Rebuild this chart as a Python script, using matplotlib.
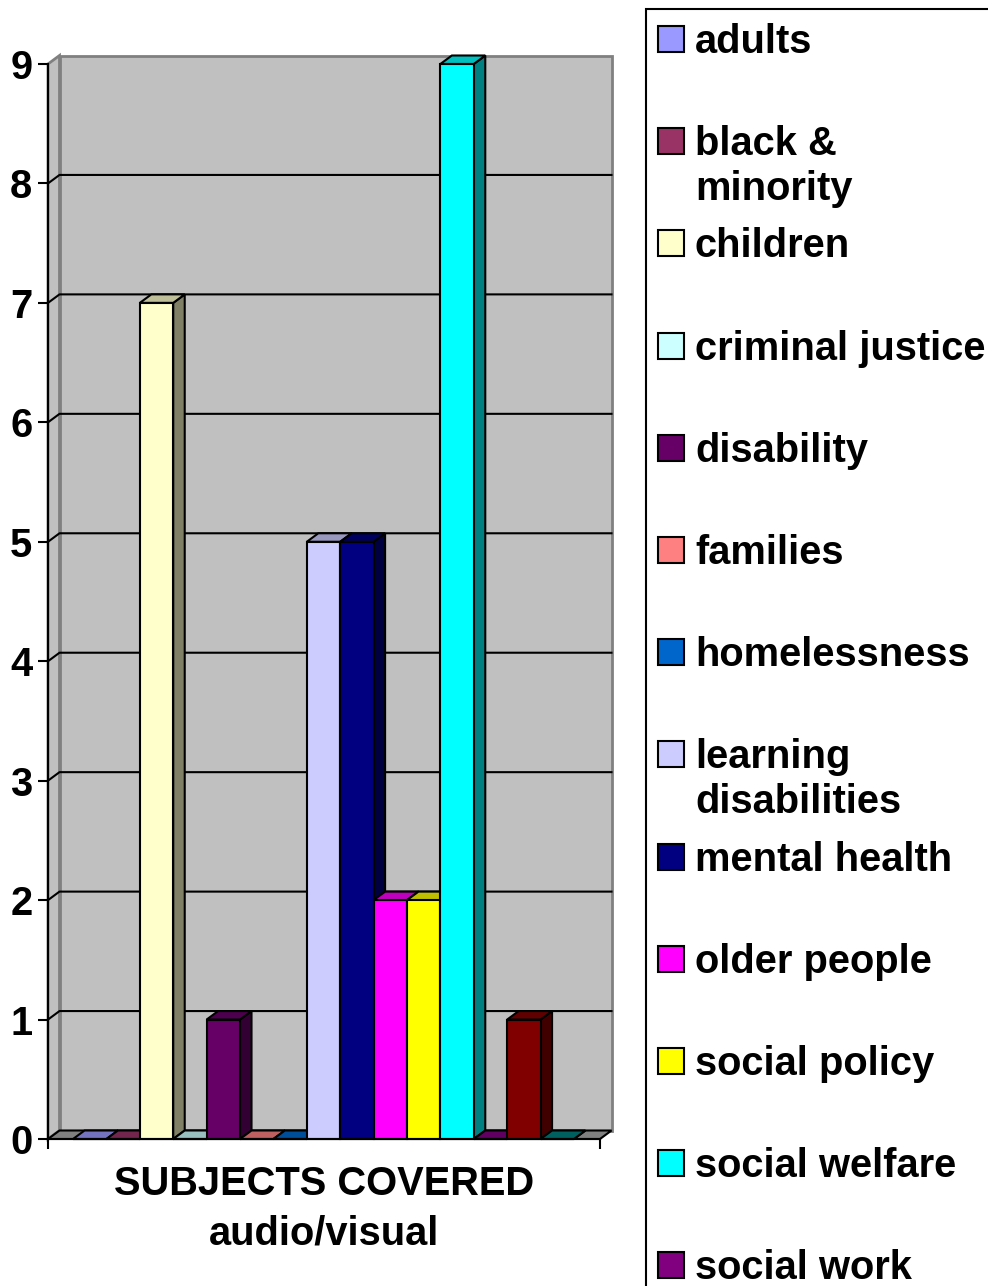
import numpy as np
import matplotlib
matplotlib.use("Agg")
import matplotlib.pyplot as plt
from matplotlib.patches import Polygon, Rectangle
from matplotlib.colors import to_rgb

plt.rcParams['font.family'] = ['Liberation Sans', 'DejaVu Sans']
plt.rcParams['font.weight'] = 'bold'

# data
subjects = ["adults", "black &\nminority", "children", "criminal justice", "disability",
            "families", "homelessness", "learning\ndisabilities", "mental health",
            "older people", "social policy", "social welfare", "social work",
            "substance misuse", "young people"]
counts = [0, 0, 7, 0, 1, 0, 0, 5, 5, 2, 2, 9, 0, 1, 0]
colors = ["#9999FF", "#993366", "#FFFFCC", "#CCFFFF", "#660066", "#FF8080", "#0066CC",
          "#CCCCFF", "#000080", "#FF00FF", "#FFFF00", "#00FFFF", "#800080", "#800000",
          "#008080"]
yticks = list(range(0, 10))
category_title = "SUBJECTS COVERED\naudio/visual"

W, H = 988, 1286
fig = plt.figure(figsize=(W / 100, H / 100), dpi=100)

# axes = front plane of the 3d box
ax_l, ax_r, ax_t, ax_b = 48, 600, 64, 1139
ax = fig.add_axes([ax_l / W, 1 - ax_b / H, (ax_r - ax_l) / W, (ax_b - ax_t) / H])

x = np.arange(len(counts))
xmin, xmax = -1.25, len(counts) - 1 + 1.28
ymin, ymax = 0, 9
ax.set_xlim(xmin, xmax)
ax.set_ylim(ymin, ymax)

# depth offset (pixels -> data units)
ppx = (ax_r - ax_l) / (xmax - xmin)
ppy = (ax_b - ax_t) / (ymax - ymin)
dx = 11.5 / ppx
dy = 8.5 / ppy

wall = "#C0C0C0"
wall_edge = "#808080"
lw = 1.5

# back wall, side wall, floor
ax.add_patch(Polygon([(xmin + dx, dy), (xmax + dx, dy), (xmax + dx, ymax + dy), (xmin + dx, ymax + dy)],
                     closed=True, fc=wall, ec=wall_edge, lw=2, clip_on=False, zorder=0.5))
ax.add_patch(Polygon([(xmin, 0), (xmin + dx, dy), (xmin + dx, ymax + dy), (xmin, ymax)],
                     closed=True, fc=wall, ec=wall_edge, lw=2, clip_on=False, zorder=0.5))
ax.add_patch(Polygon([(xmin, 0), (xmax, 0), (xmax + dx, dy), (xmin + dx, dy)],
                     closed=True, fc="#808080", ec="black", lw=lw, clip_on=False, zorder=0.6))

# gridlines on side and back wall
for v in yticks[1:-1]:
    ax.plot([xmin, xmin + dx, xmax + dx], [v, v + dy, v + dy], color="black", lw=lw,
            clip_on=False, zorder=0.7)

# sides and tops of the bars
for xi, v, c in zip(x, counts, colors):
    rgb = np.array(to_rgb(c))
    xl, xr = xi - 0.5, xi + 0.5
    side = Polygon([(xr, 0), (xr + dx, dy), (xr + dx, v + dy), (xr, v)], closed=True,
                   fc=rgb * 0.5, ec="black", lw=lw, clip_on=False, zorder=2)
    top = Polygon([(xl, v), (xr, v), (xr + dx, v + dy), (xl + dx, v + dy)], closed=True,
                  fc=rgb * 0.75, ec="black", lw=lw, clip_on=False, zorder=2)
    ax.add_patch(side)
    ax.add_patch(top)

# front faces
ax.bar(x, counts, width=1.0, color=colors, edgecolor="black", linewidth=lw, zorder=3,
       clip_on=False)

for s in ["top", "right"]:
    ax.spines[s].set_visible(False)
for s in ["left", "bottom"]:
    ax.spines[s].set_linewidth(lw)
    ax.spines[s].set_zorder(4)
ax.patch.set_visible(False)

ax.set_yticks(yticks)
ax.set_yticklabels([str(t) for t in yticks], fontsize=28.7, fontweight="bold")
ax.set_xticks([xmin, xmax])
ax.set_xticklabels([])
ax.tick_params(axis="both", direction="out", length=7.2, width=lw, color="black")
ax.tick_params(axis="y", pad=4)
ax.set_xlabel(category_title, fontsize=28.7, fontweight="bold", linespacing=1.37, labelpad=8)

# legend box (extends beyond the figure like the reference)
def fx(px):
    return px / W


def fy(py):
    return 1 - py / H


box_l, box_t = 646, 9
fig.patches.append(Rectangle((fx(box_l), fy(H + 50)), fx(W + 50 - box_l), (H + 50 - box_t) / H,
                             transform=fig.transFigure, fc="white", ec="black", lw=1.5,
                             zorder=1))
step = 102.2
for i, (lab, c) in enumerate(zip(subjects, colors)):
    cy = 39 + i * step
    if cy > H:
        break
    fig.patches.append(Rectangle((fx(658), fy(cy + 13)), fx(26), 26 / H,
                                 transform=fig.transFigure, fc=c, ec="black", lw=1.5,
                                 zorder=2))
    for k, line in enumerate(lab.split("\n")):
        fig.text(fx(695), fy(cy + 14 + k * 45), line, fontsize=28.7, fontweight="bold",
                 va="baseline", ha="left", zorder=3)

fig.savefig("out.png", dpi=100)
